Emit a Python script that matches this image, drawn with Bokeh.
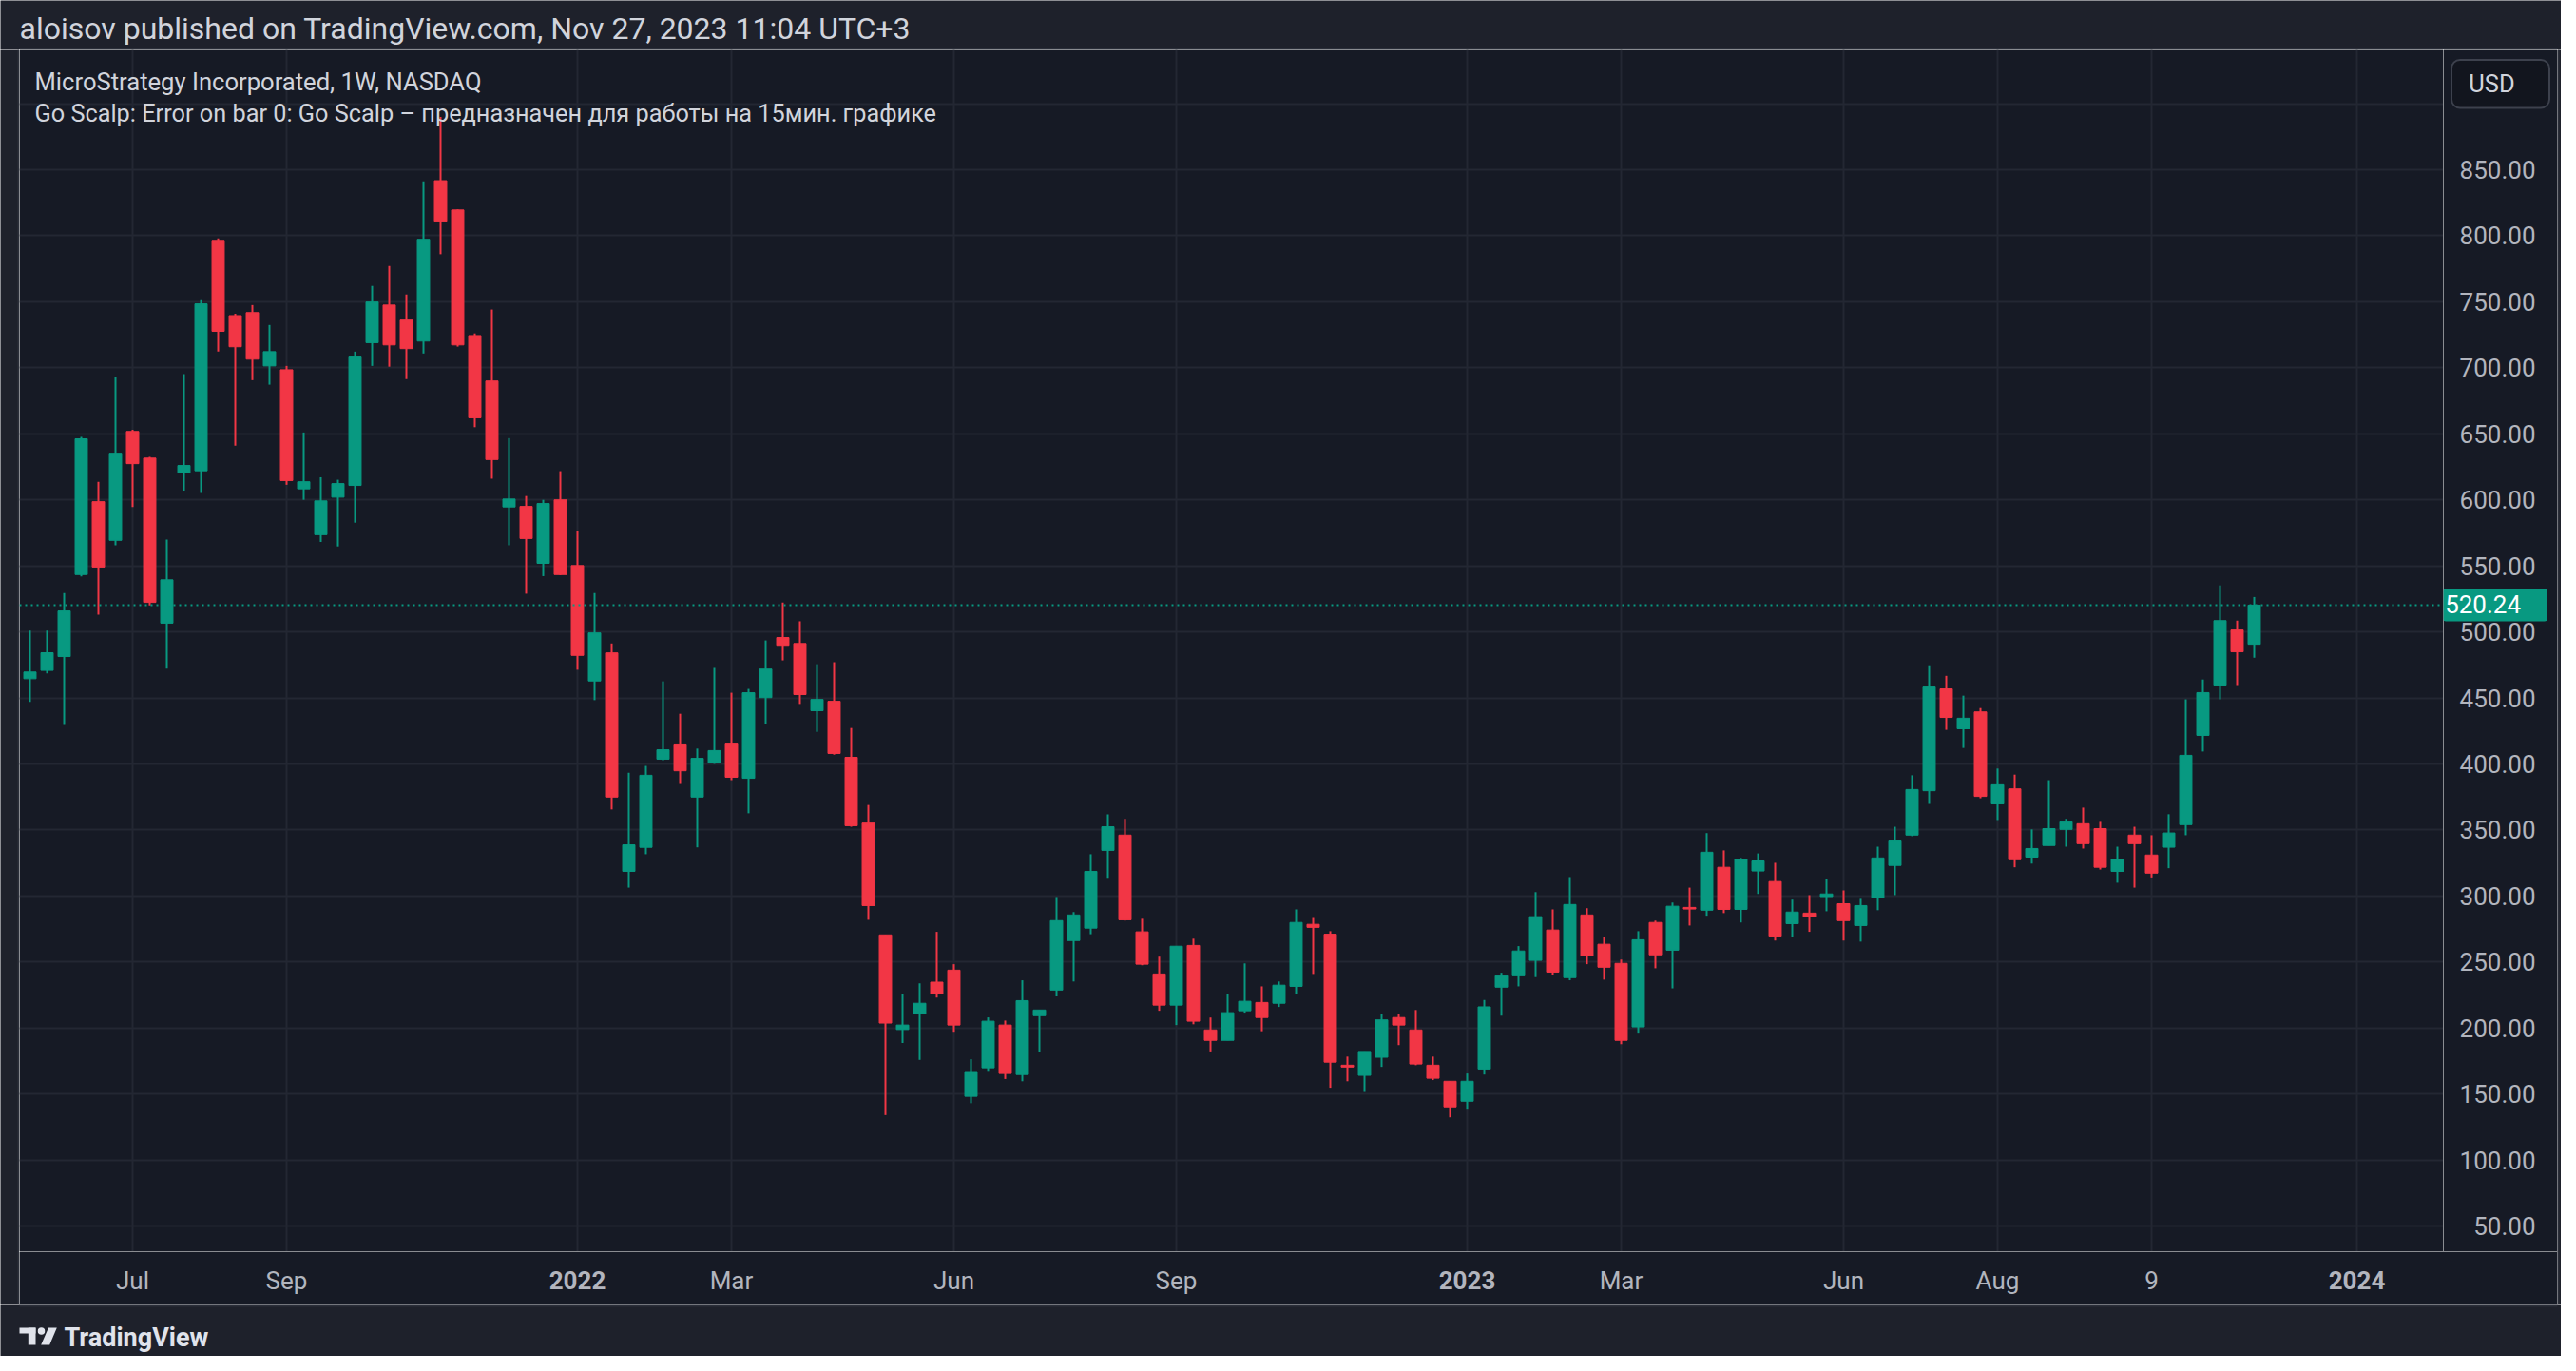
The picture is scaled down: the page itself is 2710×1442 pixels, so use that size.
import datetime as dt
from bokeh.plotting import figure
from bokeh.layouts import column, row
from bokeh.models import ColumnDataSource, Range1d, FixedTicker, Span, Label, Grid, BoxAnnotation
from bokeh.embed import file_html
from bokeh.resources import INLINE

# ---------------- data (weekly bars, MSTR) ----------------
first_bar = "2021-05-24"

opens = [464.5, 470.8, 481.3, 543.4, 598.6, 569.3, 651.8, 631.6, 506.6, 620.5,
         622.0, 796.5, 739.5, 741.8, 701.4, 698.5, 608.3, 573.6, 602.0, 610.9,
         719.0, 747.5, 736.1, 720.2, 841.7, 819.5, 724.4, 690.0, 594.6, 595.0,
         551.9, 600.0, 550.2, 462.8, 484.1, 318.6, 336.8, 403.6, 414.4, 374.9,
         400.7, 415.0, 389.1, 450.2, 495.7, 491.2, 440.3, 447.4, 405.0, 355.2,
         270.5, 198.8, 210.8, 234.7, 243.8, 148.2, 169.8, 202.2, 164.7, 209.3,
         228.7, 266.2, 275.6, 334.5, 346.1, 272.8, 240.9, 217.3, 262.5, 198.5,
         190.6, 213.0, 219.3, 218.7, 231.5, 278.5, 271.0, 171.8, 164.1, 177.8,
         207.9, 198.5, 171.8, 159.6, 144.5, 168.9, 230.9, 239.5, 251.2, 274.2,
         238.1, 285.6, 263.4, 248.9, 200.8, 279.9, 258.9, 291.3, 289.2, 321.7,
         289.8, 318.9, 310.9, 279.0, 287.0, 299.5, 294.1, 277.6, 298.6, 323.1,
         346.1, 379.7, 456.8, 426.6, 439.4, 369.7, 381.1, 329.4, 338.2, 350.4,
         354.7, 351.0, 318.6, 346.1, 331.0, 336.9, 354.0, 421.6, 459.7, 501.4,
         490.6]

highs = [501.0, 501.0, 529.4, 647.6, 613.7, 692.8, 653.0, 632.5, 569.9, 695.1,
         751.2, 797.9, 741.0, 747.5, 732.4, 701.4, 651.0, 617.1, 615.2, 712.2,
         762.0, 777.1, 755.5, 841.2, 890.0, 820.0, 726.0, 744.1, 646.7, 602.9,
         600.0, 621.7, 576.1, 529.4, 491.2, 393.3, 398.5, 462.5, 438.0, 411.6,
         472.7, 453.9, 456.8, 493.5, 522.2, 508.0, 475.5, 477.0, 427.2, 368.9,
         270.5, 225.8, 233.8, 272.8, 248.3, 176.3, 208.0, 205.6, 236.1, 213.6,
         299.2, 287.8, 331.6, 361.8, 358.4, 282.7, 254.0, 261.9, 267.6, 207.9,
         225.8, 248.9, 231.5, 235.2, 289.8, 283.3, 273.3, 178.3, 182.2, 210.5,
         210.2, 213.6, 178.3, 159.6, 165.5, 221.2, 241.8, 262.0, 302.9, 289.8,
         314.3, 290.7, 269.1, 251.8, 273.3, 281.3, 295.0, 306.3, 347.6, 334.5,
         328.8, 332.2, 325.1, 297.2, 300.6, 312.9, 304.2, 297.8, 337.3, 352.4,
         391.4, 474.7, 466.7, 451.7, 442.3, 396.5, 391.9, 350.4, 387.7, 358.4,
         366.9, 356.1, 337.3, 352.4, 346.0, 361.9, 448.9, 463.9, 535.2, 508.5,
         526.4]

lows = [447.0, 468.5, 429.5, 542.0, 513.0, 565.6, 594.6, 520.0, 472.2, 606.9,
        605.2, 712.2, 641.0, 690.6, 687.2, 611.4, 600.0, 568.1, 564.7, 582.7,
        701.4, 700.8, 691.4, 710.8, 786.0, 716.0, 655.0, 616.0, 565.6, 528.9,
        542.2, 543.0, 471.3, 448.3, 365.5, 306.3, 331.6, 402.7, 384.8, 336.8,
        400.0, 387.7, 362.6, 430.0, 478.4, 445.4, 424.3, 407.0, 352.4, 281.9,
        134.0, 188.6, 175.8, 223.0, 197.1, 143.0, 167.5, 161.3, 159.6, 182.0,
        223.9, 235.2, 271.0, 313.7, 281.3, 247.5, 213.0, 202.2, 202.8, 182.2,
        190.6, 211.6, 197.5, 215.9, 225.8, 240.9, 154.7, 159.6, 151.5, 170.5,
        187.0, 171.8, 160.5, 132.3, 138.8, 164.7, 209.3, 231.5, 238.5, 240.3,
        236.1, 248.3, 236.6, 187.7, 195.7, 245.2, 230.0, 277.6, 285.0, 287.0,
        279.9, 301.5, 266.2, 269.1, 272.8, 288.4, 266.2, 265.4, 289.2, 300.6,
        345.3, 369.7, 425.8, 412.1, 374.0, 357.5, 321.7, 324.5, 338.2, 337.3,
        335.9, 320.0, 310.0, 306.3, 314.0, 321.0, 346.0, 409.4, 448.9, 459.7,
        480.4]

closes = [469.6, 484.2, 515.8, 646.2, 549.1, 635.3, 627.4, 522.3, 539.4, 626.0,
          748.4, 727.6, 715.9, 706.5, 712.2, 614.6, 613.7, 599.2, 612.3, 708.8,
          749.8, 717.3, 714.5, 797.3, 811.0, 717.3, 662.1, 630.5, 600.6, 570.7,
          597.2, 543.4, 482.2, 499.2, 374.9, 338.7, 391.4, 410.7, 394.8, 404.2,
          410.1, 389.9, 453.9, 471.8, 489.8, 452.5, 448.8, 407.9, 353.2, 292.7,
          203.7, 202.2, 218.7, 225.8, 202.2, 167.0, 205.1, 165.5, 220.7, 213.6,
          281.3, 285.6, 318.6, 352.4, 281.9, 248.3, 217.3, 261.9, 205.1, 190.6,
          211.6, 220.2, 207.9, 232.4, 279.9, 276.2, 174.1, 170.4, 182.2, 206.1,
          202.2, 172.7, 161.9, 140.2, 159.6, 216.0, 239.5, 258.3, 284.3, 242.3,
          293.5, 254.6, 246.0, 190.6, 266.8, 255.4, 292.2, 290.1, 333.1, 289.8,
          327.9, 326.5, 269.6, 287.8, 284.4, 301.5, 281.3, 292.7, 328.8, 341.6,
          380.6, 458.2, 435.2, 434.6, 375.4, 384.2, 327.4, 335.9, 351.0, 356.1,
          339.6, 321.7, 327.9, 339.6, 317.3, 347.7, 406.5, 454.0, 508.5, 484.9,
          520.24]

tick_dates = ["2021-07-05", "2021-09-06", "2022-01-03", "2022-03-07", "2022-06-06", "2022-09-05",
              "2023-01-02", "2023-03-06", "2023-06-05", "2023-08-07", "2023-10-09", "2024-01-01"]
tick_labels = ["Jul", "Sep", "2022", "Mar", "Jun", "Sep", "2023", "Mar", "Jun", "Aug", "9", "2024"]
price_ticks = [50, 100, 150, 200, 250, 300, 350, 400, 450, 500, 550, 600, 650, 700, 750, 800, 850]
grid_prices = price_ticks + [900]
last_price = 520.24

header_text = "aloisov published on TradingView.com, Nov 27, 2023 11:04 UTC+3"
legend_title = "MicroStrategy Incorporated, 1W, NASDAQ"
legend_error = ("Go Scalp: Error on bar 0: Go Scalp \u2013 \u043f\u0440\u0435\u0434\u043d\u0430\u0437\u043d\u0430\u0447\u0435\u043d "
                "\u0434\u043b\u044f \u0440\u0430\u0431\u043e\u0442\u044b \u043d\u0430 15\u043c\u0438\u043d. \u0433\u0440\u0430\u0444\u0438\u043a\u0435")

# ---------------- style ----------------
OUTER = "#1e212b"
PANE = "#161a25"
BOX_BG = "#12151e"
BOX_LINE = "#3d414d"
GRID = "#232733"
BORDER = "#2a2e39"
UP = "#089981"
DOWN = "#f23645"
TXT = "#d1d4dc"
AXT = "#b2b5be"
LOGO = "#e0e3eb"
FONT = "Roboto"

TOTAL_W, TOTAL_H = 2694, 1426
HEAD_H, FOOT_H = 52, 54
LEFT_W, RIGHT_W = 20, 4
PRICE_W, TIME_H = 120, 56
PANE_W = TOTAL_W - LEFT_W - RIGHT_W          # 2670
FRAME_W = PANE_W - PRICE_W                    # 2550
FRAME_H = TOTAL_H - HEAD_H - FOOT_H - TIME_H  # 1264
BAR_PX = 18.0

t0 = dt.date.fromisoformat(first_bar)
tick_pos = [int((dt.date.fromisoformat(d) - t0).days // 7) for d in tick_dates]

n = len(closes)
colors = [UP if c >= o else DOWN for o, c in zip(opens, closes)]
src = ColumnDataSource(dict(
    x=list(range(n)), open=opens, high=highs, low=lows, close=closes,
    top=[max(o, c) for o, c in zip(opens, closes)],
    bottom=[min(o, c) for o, c in zip(opens, closes)],
    color=colors))

x_start = -11.0 / BAR_PX
y_lo, y_hi = 30.56, 940.73

label_props = Label.properties()
box_props = BoxAnnotation.properties()

def box_kw(radius, pad):
    kw = {}
    if "border_radius" in label_props:
        kw["border_radius"] = radius
    if "padding" in label_props:
        kw["padding"] = pad
    return kw

def panel(w, h, fill, x_range=None, y_range=None):
    f = figure(width=w, height=h,
               x_range=x_range if x_range is not None else Range1d(0, w),
               y_range=y_range if y_range is not None else Range1d(0, h),
               output_backend="svg", toolbar_location=None, min_border=0,
               x_axis_location=None, y_axis_location=None,
               background_fill_color=fill, border_fill_color=None, outline_line_color=None)
    f.xgrid.visible = False
    f.ygrid.visible = False
    return f

# ---------------- main chart (plot area) ----------------
chart = panel(FRAME_W, FRAME_H, PANE,
              x_range=Range1d(x_start, x_start + FRAME_W / BAR_PX),
              y_range=Range1d(y_lo, y_hi))
chart.add_layout(Grid(dimension=0, ticker=FixedTicker(ticks=tick_pos),
                      grid_line_color=GRID, grid_line_width=2))
chart.add_layout(Grid(dimension=1, ticker=FixedTicker(ticks=grid_prices),
                      grid_line_color=GRID, grid_line_width=2))

chart.segment(x0="x", y0="low", x1="x", y1="high", line_color="color", line_width=2, source=src)
chart.vbar(x="x", width=0.72, top="top", bottom="bottom", fill_color="color",
           line_color="color", line_width=1, source=src)

chart.add_layout(Span(location=last_price, dimension="width", line_color=UP,
                      line_dash="2 4", line_width=2))

chart.add_layout(Label(x=16, y=FRAME_H - 33, x_units="screen", y_units="screen",
                       text=legend_title, text_baseline="middle", text_font=FONT,
                       text_font_size="25.6px", text_color=TXT))
chart.add_layout(Label(x=16, y=FRAME_H - 67, x_units="screen", y_units="screen",
                       text=legend_error, text_baseline="middle", text_font=FONT,
                       text_font_size="25.3px", text_color=TXT))

# ---------------- price scale ----------------
price = panel(PRICE_W, FRAME_H, PANE, y_range=chart.y_range)
for v in price_ticks:
    price.add_layout(Label(x=97, y=v, x_units="screen", y_units="data", text="%.2f" % v,
                           text_align="right", text_baseline="middle", text_font=FONT,
                           text_font_size="26px", text_color=AXT))
price.add_layout(Label(x=54.5, y=last_price, x_units="screen", y_units="data",
                       text="  %.2f  " % last_price, text_align="center", text_baseline="middle",
                       text_font=FONT, text_font_size="26px", text_color="#ffffff",
                       background_fill_color=UP, **box_kw(3, 2)))

usd_kw = dict(left=8.5, right=111.5, top=FRAME_H - 10.5, bottom=FRAME_H - 61,
              left_units="screen", right_units="screen", top_units="screen", bottom_units="screen",
              fill_color=BOX_BG, fill_alpha=1.0, line_color=BOX_LINE, line_width=2, line_alpha=1.0)
if "border_radius" in box_props:
    usd_kw["border_radius"] = 9
price.add_layout(BoxAnnotation(**usd_kw))
price.add_layout(Label(x=51, y=FRAME_H - 35.9, x_units="screen", y_units="screen",
                       text="USD", text_align="center", text_baseline="middle",
                       text_font=FONT, text_font_size="25.5px", text_color=TXT))

# ---------------- time scale ----------------
timeax = panel(PANE_W, TIME_H, PANE,
               x_range=Range1d(x_start, x_start + PANE_W / BAR_PX))
for t, lab in zip(tick_pos, tick_labels):
    timeax.add_layout(Label(x=t, y=TIME_H - 30, x_units="data", y_units="screen", text=lab,
                            text_align="center", text_baseline="middle",
                            text_font=FONT, text_font_size="26px", text_color=AXT,
                            text_font_style="bold" if len(lab) == 4 else "normal"))

# ---------------- frame pieces ----------------
head = panel(TOTAL_W, HEAD_H, OUTER)
head.segment(x0=[LEFT_W], y0=[1], x1=[LEFT_W + PANE_W], y1=[1], line_color=BORDER, line_width=2)
head.add_layout(Label(x=20, y=HEAD_H - 29, text=header_text, text_baseline="middle",
                      text_font=FONT, text_font_size="32px", text_color=TXT))

foot = panel(TOTAL_W, FOOT_H, OUTER)
foot.segment(x0=[LEFT_W], y0=[FOOT_H - 1], x1=[LEFT_W + PANE_W], y1=[FOOT_H - 1],
             line_color=BORDER, line_width=2)
foot.quad(left=[20], right=[37], top=[30], bottom=[24], fill_color=LOGO, line_color=None)
foot.quad(left=[29.3], right=[37], top=[30], bottom=[12], fill_color=LOGO, line_color=None)
foot.scatter(x=[43], y=[26.5], size=7.5, fill_color=LOGO, line_color=None)
foot.patch(x=[50.5, 59.3, 51.7, 42.7], y=[30, 30, 12, 12], fill_color=LOGO, line_color=None)
foot.add_layout(Label(x=67, y=19.5, text="TradingView", text_baseline="middle",
                      text_font=FONT, text_font_size="27px", text_font_style="bold",
                      text_color=LOGO))

left = panel(LEFT_W, FRAME_H + TIME_H, OUTER)
left.segment(x0=[LEFT_W - 1], y0=[0], x1=[LEFT_W - 1], y1=[FRAME_H + TIME_H],
             line_color=BORDER, line_width=2)
right = panel(RIGHT_W, FRAME_H + TIME_H, OUTER)
right.segment(x0=[1], y0=[0], x1=[1], y1=[FRAME_H + TIME_H], line_color=BORDER, line_width=2)

p = column(head, row(left, column(row(chart, price), timeax), right), foot)

open("out.html", "w").write(file_html(p, INLINE))
